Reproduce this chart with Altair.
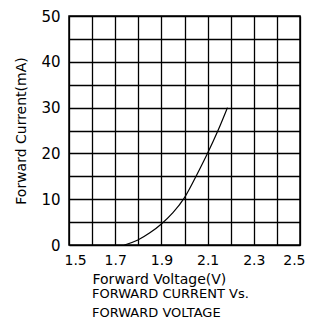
import altair as alt
import pandas as pd

voltage = [1.74, 1.80, 1.85, 1.90, 1.95, 2.00, 2.05, 2.10, 2.146, 2.186]
current = [0, 1.0, 2.6, 4.5, 7.0, 10, 15, 20, 25, 30]

x_grid = [1.5, 1.6, 1.7, 1.8, 1.9, 2.0, 2.1, 2.2, 2.3, 2.4, 2.5]
y_grid = [0, 5, 10, 15, 20, 25, 30, 35, 40, 45, 50]

df = pd.DataFrame({"v": voltage, "i": current})

FONT = "DejaVu Sans"

chart = alt.Chart(df).mark_line(
    color="black", strokeWidth=1.2, interpolate="basis"
).encode(
    x=alt.X("v:Q", scale=alt.Scale(domain=[1.5, 2.5], nice=False, zero=False),
            axis=alt.Axis(values=x_grid, format=".1f",
                          labelExpr="round(datum.value*10) % 2 == 1 ? datum.label : ''",
                          labelOverlap=False, ticks=False, domain=False,
                          grid=True, gridColor="black", gridWidth=1.3, gridOpacity=1,
                          labelFont=FONT, labelFontSize=14, labelColor="black",
                          labelPadding=8, labelFlush=True, labelFlushOffset=5,
                          labelBound=False,
                          title="Forward Voltage(V)", titleFont=FONT,
                          titleFontSize=14, titleFontWeight="normal", titleColor="black",
                          titleAnchor="start", titleAlign="left", titleX=23, titleY=38,
                          titleBaseline="alphabetic")),
    y=alt.Y("i:Q", scale=alt.Scale(domain=[0, 50], nice=False),
            axis=alt.Axis(values=y_grid,
                          labelExpr="datum.value % 10 == 0 ? datum.label : ''",
                          labelOverlap=False, ticks=False, domain=False,
                          grid=True, gridColor="black", gridWidth=1.3, gridOpacity=1,
                          labelFont=FONT, labelFontSize=15, labelColor="black",
                          labelPadding=9, labelFlush=False, labelBound=False,
                          title="Forward Current(mA)", titleFont=FONT,
                          titleFontSize=14, titleFontWeight="normal", titleColor="black",
                          titlePadding=12)),
).properties(
    width=231, height=229,
    autosize=alt.AutoSizeParams(type="none"),
    padding={"left": 61, "top": 8, "right": 8, "bottom": 78},
    title=alt.TitleParams(["FORWARD CURRENT Vs.", "FORWARD VOLTAGE"], orient="bottom",
                          anchor="start", frame="group", font=FONT, fontSize=13,
                          fontWeight="normal", color="black", lineHeight=19, dx=23,
                          offset=2),
).configure_view(stroke="black", strokeWidth=1.5)

chart.save("out.html", embed_options={"renderer": "svg", "actions": False})
